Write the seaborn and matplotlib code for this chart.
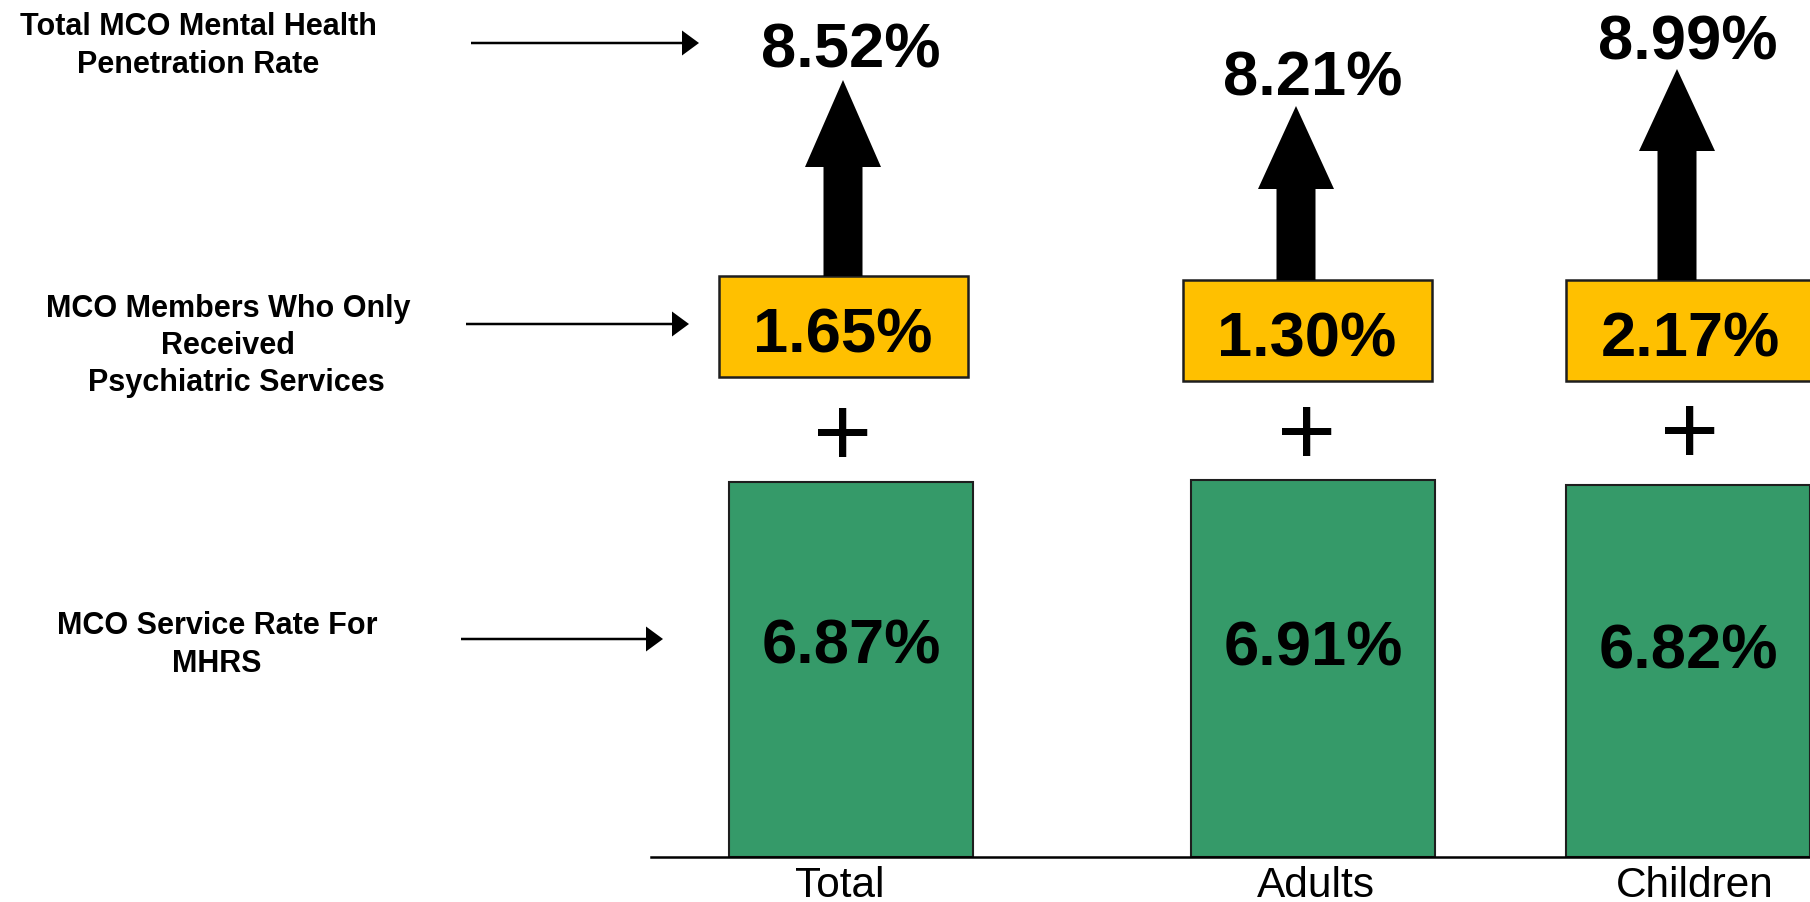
import matplotlib
matplotlib.use("Agg")
import matplotlib.pyplot as plt
from matplotlib.patches import FancyArrow, Rectangle
import pandas as pd
import seaborn as sns

# ---- data -------------------------------------------------------------
groups = ["Total", "Adults", "Children"]
mhrs_service_rate = [6.87, 6.91, 6.82]        # green bars
psychiatric_only_rate = [1.65, 1.30, 2.17]    # gold boxes
penetration_rate = [8.52, 8.21, 8.99]         # totals above the arrows

row_labels = [
    "Total MCO Mental Health\nPenetration Rate",
    "MCO Members Who Only\nReceived\n  Psychiatric Services",
    "MCO Service Rate For\nMHRS",
]

# ---- layout (figure pixels, origin at top-left) -----------------------
W, H = 1810, 903
BASE_Y = 858            # pixel row of the bar baseline
PX_PER_UNIT = 54.6      # vertical pixels per percentage point
col_x = [851, 1313, 1688]
group_label_x = [840, 1316, 1695]
box_x = [843, 1307, 1690]
box_top = [277, 281, 281]
BOX_W, BOX_H = 249, 101
arrow_x = [843, 1296, 1677]
arrow_tip = [81, 107, 70]
head_len = [87, 83, 82]
total_label_y = [44, 72, 37]
plus_y = [430, 429, 428]
bar_label_y = [641, 643, 646]
row_label_pos = [(198, 46), (228, 346), (217, 645)]
row_arrow = [(471, 699, 44), (466, 689, 325), (461, 663, 640)]

GREEN = "#359a69"
GOLD = "#ffc000"
EDGE = "#1e1e1e"

sns.set_theme(style="white")
plt.rcParams["font.family"] = ["Liberation Sans", "DejaVu Sans"]

fig = plt.figure(figsize=(W / 100, H / 100), dpi=100)

# ---- bar layer: y in percentage points ---------------------------------
ax = fig.add_axes([0, (H - BASE_Y) / H, 1, BASE_Y / H])
df = pd.DataFrame({"group": groups, "pos": col_x, "rate": mhrs_service_rate})
sns.barplot(data=df, x="pos", y="rate", native_scale=True, width=0.65,
            color=GREEN, saturation=1, edgecolor=EDGE, linewidth=1.5,
            errorbar=None, ax=ax)
ax.set_xlim(0, W)
ax.set_ylim(0, BASE_Y / PX_PER_UNIT)
ax.set_xticks(group_label_x, groups)
ax.set_yticks([])
ax.set_xlabel("")
ax.set_ylabel("")
ax.tick_params(axis="x", length=0, pad=6, labelsize=30.5, labelcolor="black")
for side in ("left", "right", "top"):
    ax.spines[side].set_visible(False)
ax.spines["bottom"].set_bounds(651, W)
ax.spines["bottom"].set_linewidth(1.8)
ax.spines["bottom"].set_color("black")
ax.set_facecolor("none")

# ---- annotation layer: pixel coordinates -------------------------------
ov = fig.add_axes([0, 0, 1, 1], facecolor="none")
ov.set_xlim(0, W)
ov.set_ylim(H, 0)
ov.axis("off")

pct_font = dict(fontsize=45.5, fontweight="bold", color="black",
                ha="center", va="center_baseline")

for i in range(len(groups)):
    # value printed inside the green bar
    ov.text(col_x[i], bar_label_y[i], f"{mhrs_service_rate[i]:.2f}%", **pct_font)

    # plus sign between bar and gold box
    ov.text(box_x[i], plus_y[i], "+", fontsize=73, color="black",
            ha="center", va="center_baseline")

    # gold box for psychiatric-only members
    ov.add_patch(Rectangle((box_x[i] - BOX_W / 2, box_top[i]), BOX_W, BOX_H,
                           facecolor=GOLD, edgecolor=EDGE, linewidth=1.8))
    ov.text(box_x[i], box_top[i] + BOX_H / 2 + 2,
            f"{psychiatric_only_rate[i]:.2f}%", **pct_font)

    # thick arrow up to the total penetration rate
    ov.add_patch(FancyArrow(arrow_x[i], box_top[i], 0, arrow_tip[i] - box_top[i],
                            width=39, head_width=76, head_length=head_len[i],
                            length_includes_head=True, facecolor="black",
                            edgecolor="none"))
    ov.text(col_x[i], total_label_y[i], f"{penetration_rate[i]:.2f}%", **pct_font)

# row captions on the left with pointer arrows
for label, (lx, ly), (x0, x1, ay) in zip(row_labels, row_label_pos, row_arrow):
    ov.text(lx, ly, label, fontsize=22, fontweight="bold", color="black",
            ha="center", va="center", multialignment="center", linespacing=1.32)
    ov.add_patch(FancyArrow(x0, ay, x1 - x0, 0, width=2.5, head_width=25,
                            head_length=17, length_includes_head=True,
                            facecolor="black", edgecolor="none"))

fig.savefig("out.png", dpi=100, facecolor="white")
